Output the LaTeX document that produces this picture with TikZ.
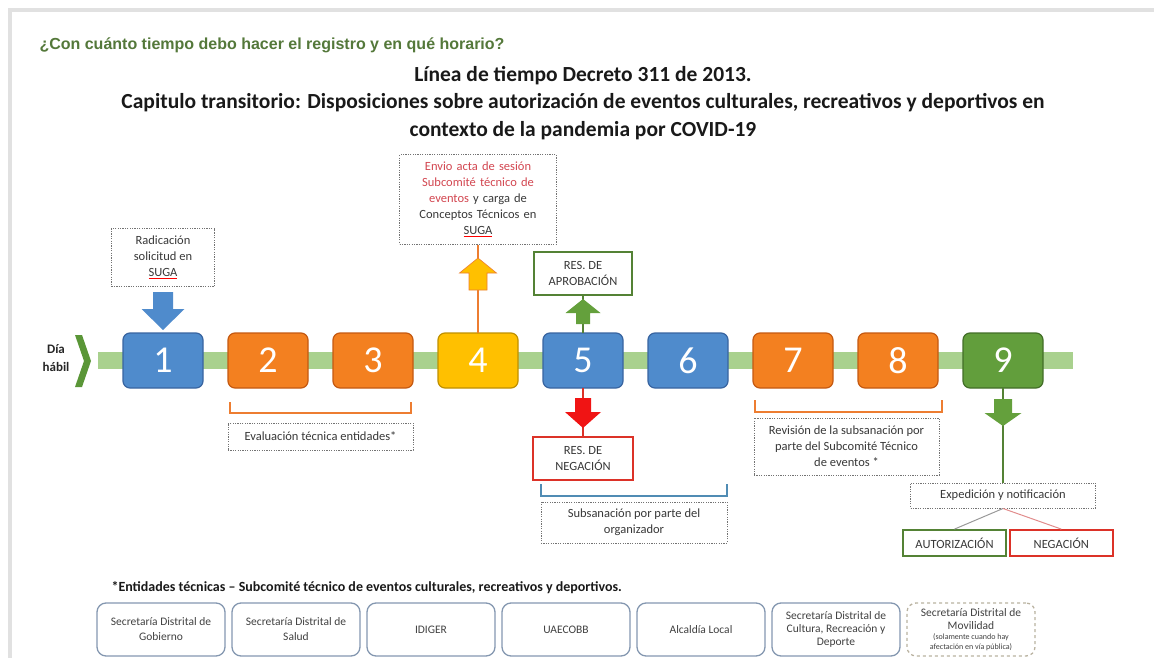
\documentclass[tikz,border=0pt]{standalone}
\usepackage{fontspec}
\setmainfont{Carlito}
\newfontfamily\hdrfont{Liberation Sans}
\usetikzlibrary{shapes,arrows}
\usetikzlibrary{positioning}
\definecolor{framegray}{RGB}{225,225,225}
\definecolor{hdrgreen}{RGB}{84,120,58}
\definecolor{barlight}{RGB}{169,209,142}
\definecolor{chevgreen}{RGB}{90,150,55}
\definecolor{dayblue}{RGB}{79,139,204}
\definecolor{dayblueb}{RGB}{56,100,160}
\definecolor{dayorange}{RGB}{243,128,32}
\definecolor{dayorangeb}{RGB}{196,89,17}
\definecolor{dayyellow}{RGB}{255,192,0}
\definecolor{dayyellowb}{RGB}{191,144,0}
\definecolor{daygreen}{RGB}{98,158,60}
\definecolor{daygreenb}{RGB}{66,110,40}
\definecolor{lineorange}{RGB}{237,125,49}
\definecolor{aprobgreen}{RGB}{84,130,53}
\definecolor{arrgreen}{RGB}{100,160,60}
\definecolor{negred}{RGB}{220,50,40}
\definecolor{arrred}{RGB}{240,20,20}
\definecolor{pinkline}{RGB}{225,140,140}
\definecolor{bracketblue}{RGB}{80,140,180}
\definecolor{envred}{RGB}{210,70,80}
\definecolor{entgray}{RGB}{132,151,176}
\definecolor{movgray}{RGB}{185,178,160}
\tikzstyle{daybox} = [rectangle, rounded corners=7pt, line width=1.2pt, minimum width=80pt,
minimum height = 55pt, inner sep=0pt, outer sep=0pt, text=white, font=\fontsize{38}{38}\selectfont]
\tikzstyle{note} = [rectangle, draw=black!55, dash pattern=on 1.2pt off 1.2pt, line width=1pt,
inner sep=0pt, align=center, text=black!78, font=\fontsize{12.5}{16}\selectfont]
\tikzstyle{res} = [rectangle, line width=2pt, inner sep=0pt, align=center, text=black!78,
font=\fontsize{12.5}{16}\selectfont]
\tikzstyle{ente} = [rectangle, rounded corners=9pt, draw=entgray, line width=1.3pt, minimum width=128pt,
minimum height = 53pt, inner sep=0pt, outer sep=0pt, align=center, text=black!75,
font=\fontsize{11.5}{15}\selectfont]
\tikzstyle{line} = [draw, line width=1.3pt]
\tikzstyle{brace} = [draw, line width=1.4pt]
\newcommand{\suga}{\textcolor{red}{\underline{\textcolor{black!78}{SUGA}}}}
\newcommand{\movsmall}[1]{{\fontsize{8}{9}\selectfont #1}}

\begin{document}
\begin{tikzpicture}[x=1pt,y=-1pt]
	\useasboundingbox (0,0) rectangle (1154,658);
	\draw [framegray, line width=4pt] (10,658) -- (10,10) -- (1154,10);
	\node [anchor=west, text=hdrgreen, font=\hdrfont\bfseries\fontsize{16}{18}\selectfont] (hdr) at (36,45)
		{¿Con cuánto tiempo debo hacer el registro y en qué horario?};
	\node [align=center, text=black!90, font=\bfseries\fontsize{21.5}{27.5}\selectfont] (title) at (583,103)
		{Línea de tiempo Decreto 311 de 2013.\\
		Capitulo transitorio: Disposiciones sobre autorización de eventos culturales, recreativos y deportivos en\\
		contexto de la pandemia por COVID-19};
	%% Timeline
	\fill [barlight] (98,352) rectangle (1073,369);
	\fill [chevgreen] (75,335) -- (82,335) -- (91,361) -- (82,387) -- (75,387) -- (84,361) -- cycle;
	\node [align=center, text=black!85, font=\bfseries\fontsize{13}{18}\selectfont] (habil) at (56,358) {Día\\hábil};
	\node [daybox, fill=dayblue, draw=dayblueb] (d1) at (163,360.5) {1};
	\node [daybox, fill=dayorange, draw=dayorangeb, right=25pt of d1] (d2) {2};
	\node [daybox, fill=dayorange, draw=dayorangeb, right=25pt of d2] (d3) {3};
	\node [daybox, fill=dayyellow, draw=dayyellowb, right=25pt of d3] (d4) {4};
	\node [daybox, fill=dayblue, draw=dayblueb, right=25pt of d4] (d5) {5};
	\node [daybox, fill=dayblue, draw=dayblueb, right=25pt of d5] (d6) {6};
	\node [daybox, fill=dayorange, draw=dayorangeb, right=25pt of d6] (d7) {7};
	\node [daybox, fill=dayorange, draw=dayorangeb, right=25pt of d7] (d8) {8};
	\node [daybox, fill=daygreen, draw=daygreenb, right=25pt of d8] (d9) {9};
	%% Notes
	\node [note, minimum width=103pt, minimum height=58pt] (rad) at (163,257.5) {Radicación\\solicitud en\\\suga};
	\node [note, minimum width=157pt, minimum height=89pt, text width=152pt] (env) at (478,199.5)
		{\textcolor{envred}{Envio acta de sesión}\\ \textcolor{envred}{Subcomité técnico de}\\
		\textcolor{envred}{eventos} y carga de\\ Conceptos Técnicos en\\ \suga};
	\node [res, draw=aprobgreen, minimum width=98pt, minimum height=43pt] (aprob) at (583,273.5) {RES. DE\\APROBACIÓN};
	\node [res, draw=negred, minimum width=100pt, minimum height=43pt] (neg) at (583,458.5) {RES. DE\\NEGACIÓN};
	\node [note, minimum width=185pt, minimum height=27pt] (eval) at (320.5,436.5) {Evaluación técnica entidades*};
	\node [note, minimum width=186pt, minimum height=41pt] (subs) at (634,522.5) {Subsanación por parte del\\organizador};
	\node [note, minimum width=185pt, minimum height=57pt] (rev) at (846.5,446.5)
		{Revisión de la subsanación por\\parte del Subcomité Técnico\\de eventos *};
	\node [note, minimum width=185pt, minimum height=25pt] (exped) at (1003,495.5) {Expedición y notificación};
	\node [res, draw=aprobgreen, line width=1.8pt, minimum width=103pt, minimum height=26pt]
		(aut) at (954.5,543) {AUTORIZACIÓN};
	\node [res, draw=negred, line width=1.8pt, minimum width=103pt, minimum height=26pt, right=2pt of aut] (nega) {NEGACIÓN};
	%% Flows
	\path [line, draw=lineorange] (d4) -- (env);
	\path [line, draw=aprobgreen] (d5) -- (aprob);
	\path [line, draw=negred] (d5) -- (neg);
	\path [line, draw=aprobgreen] (d9) -- (exped);
	\path [draw, line width=1pt, black!40] (exped.south) -- (aut.north);
	\path [draw, line width=1pt, pinkline] (exped.south) -- (nega.north);
	%% Block arrows
	\fill [dayblue] (153,292) -- (173,292) -- (173,309) -- (184.5,309) -- (163,330) -- (141.5,309) -- (153,309) -- cycle;
	\filldraw [fill=dayyellow, draw=lineorange, line width=0.6pt]
		(469,290) -- (487,290) -- (487,273) -- (496.5,273) -- (478,258) -- (459.5,273) -- (469,273) -- cycle;
	\fill [arrgreen] (576,324) -- (590,324) -- (590,313) -- (600.5,313) -- (583,299) -- (565.5,313) -- (576,313) -- cycle;
	\fill [arrred] (575,398) -- (591,398) -- (591,412) -- (601,412) -- (583,428) -- (565,412) -- (575,412) -- cycle;
	\fill [arrgreen] (994,399) -- (1012,399) -- (1012,413) -- (1021.5,413) -- (1003,426) -- (984.5,413) -- (994,413) -- cycle;
	%% Brackets
	\draw [brace, draw=lineorange] (230,402) -- (230,413) -- (411,413) -- (411,402);
	\draw [brace, draw=bracketblue] (541,484) -- (541,496) -- (727,496) -- (727,484);
	\draw [brace, draw=lineorange] (755,400) -- (755,412) -- (942,412) -- (942,400);
	%% Entidades
	\node [anchor=west, text=black!90, font=\bfseries\fontsize{14}{16}\selectfont] (ent) at (108,588)
		{*Entidades técnicas – Subcomité técnico de eventos culturales, recreativos y deportivos.};
	\node [ente] (e1) at (161,629.5) {Secretaría Distrital de\\Gobierno};
	\node [ente, right=7pt of e1] (e2) {Secretaría Distrital de\\Salud};
	\node [ente, right=7pt of e2] (e3) {IDIGER};
	\node [ente, right=7pt of e3] (e4) {UAECOBB};
	\node [ente, right=7pt of e4] (e5) {Alcaldía Local};
	\node [ente, right=7pt of e5, font=\fontsize{11.5}{13}\selectfont] (e6) {Secretaría Distrital de\\Cultura, Recreación y\\Deporte};
	\node [ente, right=7pt of e6, draw=movgray, dashed, font=\fontsize{11.5}{12.5}\selectfont] (e7)
		{Secretaría Distrital de\\Movilidad\\[-2pt]\movsmall{(solamente cuando hay}\\[-3pt]\movsmall{afectación en vía pública)}};
\end{tikzpicture}
\end{document}
